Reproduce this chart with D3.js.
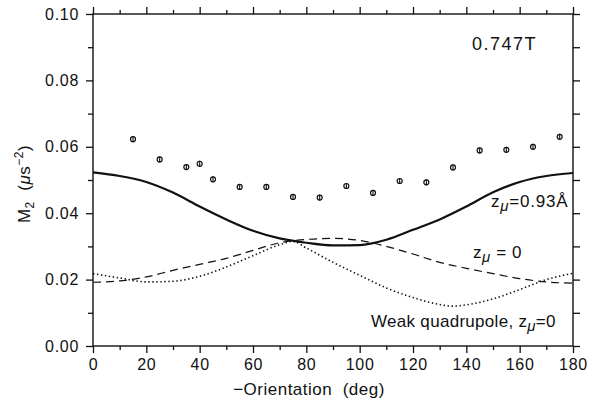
<!DOCTYPE html>
<html>
<head>
<meta charset="utf-8">
<script src="https://cdn.jsdelivr.net/npm/d3@7"></script>
<style>
	body { margin: 0; background: #fff; }
	svg { font-family: 'Liberation Sans', Arial, sans-serif; }
	.tick text { font-size: 16px; letter-spacing: 0.7px; fill: #111; }
	.tick line { stroke: #111; stroke-width: 1.3; }
	.label { font-size: 17px; fill: #111; }
</style>
</head>
<body>
<svg width="593" height="402"></svg>
<script>
// measured points
const angles = [15, 25, 35, 40, 45, 55, 65, 75, 85, 95, 105, 115, 125, 135, 145, 155, 165, 175];
const measured = [0.0623, 0.0562, 0.0539, 0.0549, 0.0502, 0.0479, 0.0479, 0.0449, 0.0447, 0.0482, 0.0461, 0.0497, 0.0493, 0.0538, 0.0589, 0.0591, 0.06, 0.063];
const errors = [0.0009, 0.0009, 0.0009, 0.0009, 0.0009, 0.0009, 0.0009, 0.0009, 0.0009, 0.0009, 0.0009, 0.0009, 0.0009, 0.0009, 0.0009, 0.0009, 0.0009, 0.0009];

// calculated curves
const curveDeg = [0, 10, 20, 30, 40, 50, 60, 70, 80, 90, 100, 110, 120, 130, 140, 150, 160, 170, 180];
const solidM2 = [0.0523, 0.0512, 0.0494, 0.0462, 0.042, 0.0381, 0.0347, 0.0324, 0.0311, 0.0303, 0.0304, 0.032, 0.035, 0.0381, 0.042, 0.0463, 0.0494, 0.0512, 0.0521];
const dashedM2 = [0.0192, 0.0196, 0.0208, 0.0228, 0.0246, 0.0264, 0.0288, 0.0311, 0.0321, 0.0324, 0.0318, 0.03, 0.0277, 0.0252, 0.0234, 0.0218, 0.0203, 0.0193, 0.0189];
const dottedDeg = [0, 10, 20, 30, 40, 50, 60, 70, 75, 80, 90, 100, 110, 120, 130, 135, 140, 150, 160, 170, 180];
const dottedM2 = [0.0218, 0.0205, 0.0193, 0.0195, 0.021, 0.0238, 0.0272, 0.0305, 0.0315, 0.0295, 0.0252, 0.0213, 0.0175, 0.0146, 0.0125, 0.012, 0.0124, 0.0142, 0.017, 0.02, 0.0219];

const xMajor = [0, 20, 40, 60, 80, 100, 120, 140, 160, 180];
const xMinor = [10, 30, 50, 70, 90, 110, 130, 150, 170];
const yMajor = [0, 0.02, 0.04, 0.06, 0.08, 0.1];
const yMinor = [0.01, 0.03, 0.05, 0.07, 0.09];

const svg = d3.select('svg');
const width = +svg.attr('width');
const height = +svg.attr('height');
const margin = { top: 14, right: 20, bottom: 56, left: 93 };
const innerWidth = width - margin.left - margin.right;
const innerHeight = height - margin.top - margin.bottom;

const xScale = d3.scaleLinear().domain([0, 180]).range([0, innerWidth]);
const yScale = d3.scaleLinear().domain([0, 0.1]).range([innerHeight, 0]);

const g = svg.append('g').attr('transform', `translate(${margin.left},${margin.top})`);

// axes, all ticks pointing outward
const addAxis = (axis, transform, showText) => {
	const ag = g.append('g').attr('transform', transform).call(axis);
	ag.select('.domain').remove();
	if (!showText) ag.selectAll('text').remove();
	return ag;
};

addAxis(d3.axisBottom(xScale).tickValues(xMajor).tickSize(7).tickPadding(6).tickFormat(d3.format('d')), `translate(0,${innerHeight})`, true);
addAxis(d3.axisBottom(xScale).tickValues(xMinor).tickSize(4), `translate(0,${innerHeight})`, false);
addAxis(d3.axisTop(xScale).tickValues(xMajor).tickSize(7), 'translate(0,0)', false);
addAxis(d3.axisTop(xScale).tickValues(xMinor).tickSize(4), 'translate(0,0)', false);
addAxis(d3.axisLeft(yScale).tickValues(yMajor).tickSize(7).tickPadding(7).tickFormat(d3.format('.2f')), 'translate(0,0)', true);
addAxis(d3.axisLeft(yScale).tickValues(yMinor).tickSize(5), 'translate(0,0)', false);
addAxis(d3.axisRight(yScale).tickValues(yMajor.concat(yMinor)).tickSize(7), `translate(${innerWidth},0)`, false);

g.append('rect')
	.attr('width', innerWidth)
	.attr('height', innerHeight)
	.attr('fill', 'none')
	.attr('stroke', '#111')
	.attr('stroke-width', 1.4);

// curves
const line = d3.line().x(d => xScale(d[0])).y(d => yScale(d[1])).curve(d3.curveMonotoneX);

g.append('path')
	.attr('d', line(d3.zip(curveDeg, solidM2)))
	.attr('fill', 'none')
	.attr('stroke', '#111')
	.attr('stroke-width', 2.2);

g.append('path')
	.attr('d', line(d3.zip(curveDeg, dashedM2)))
	.attr('fill', 'none')
	.attr('stroke', '#111')
	.attr('stroke-width', 1.2)
	.attr('stroke-dasharray', '8,5');

g.append('path')
	.attr('d', line(d3.zip(dottedDeg, dottedM2)))
	.attr('fill', 'none')
	.attr('stroke', '#111')
	.attr('stroke-width', 1.6)
	.attr('stroke-dasharray', '1.4,2.6');

// data points with error bars
const pts = g.selectAll('.pt')
	.data(d3.zip(angles, measured, errors))
	.enter()
	.append('g')
	.attr('class', 'pt');

pts.append('line')
	.attr('x1', d => xScale(d[0]))
	.attr('x2', d => xScale(d[0]))
	.attr('y1', d => yScale(d[1] + d[2]))
	.attr('y2', d => yScale(d[1] - d[2]))
	.attr('stroke', '#111')
	.attr('stroke-width', 1.1);

pts.append('circle')
	.attr('cx', d => xScale(d[0]))
	.attr('cy', d => yScale(d[1]))
	.attr('r', 2.5)
	.attr('fill', 'none')
	.attr('stroke', '#111')
	.attr('stroke-width', 1.2);

// annotations
const zmu = (sel, rest) => {
	sel.append('tspan').text('z');
	sel.append('tspan').attr('dy', 4).attr('font-size', 15).attr('font-style', 'italic').text('\u03bc');
	sel.append('tspan').attr('dy', -4).text(rest);
};

g.append('text').attr('class', 'label').attr('x', 379).attr('y', 36)
	.style('font-size', '18px').style('letter-spacing', '1.5px').text('0.747T');

g.append('text').attr('class', 'label').attr('x', 398).attr('y', 193)
	.style('letter-spacing', '0.8px').call(zmu, '=0.93\u00c5');

g.append('text').attr('class', 'label').attr('x', 380).attr('y', 244)
	.style('letter-spacing', '0.6px').call(zmu, ' = 0');

g.append('text').attr('class', 'label').attr('x', 278).attr('y', 313)
	.style('letter-spacing', '0.3px')
	.call(sel => {
		sel.append('tspan').text('Weak quadrupole, ');
		zmu(sel, '=0');
	});

// axis titles
svg.append('text')
	.attr('class', 'label')
	.attr('x', 309)
	.attr('y', 395)
	.attr('text-anchor', 'middle')
	.style('letter-spacing', '0.5px')
	.attr('xml:space', 'preserve')
	.text('\u2212Orientation  (deg)');

const yl = svg.append('text')
	.attr('class', 'label')
	.attr('transform', `translate(30,184) rotate(-90)`)
	.attr('text-anchor', 'middle')
	.style('letter-spacing', '0.5px');
yl.append('tspan').text('M');
yl.append('tspan').attr('dy', 4).attr('font-size', 12).text('2');
yl.append('tspan').attr('dy', -4).attr('xml:space', 'preserve').text('  (');
yl.append('tspan').attr('font-style', 'italic').text('\u03bc');
yl.append('tspan').text('s');
yl.append('tspan').attr('dy', -7).attr('font-size', 12).text('\u22122');
yl.append('tspan').attr('dy', 7).text(')');
</script>
</body>
</html>
